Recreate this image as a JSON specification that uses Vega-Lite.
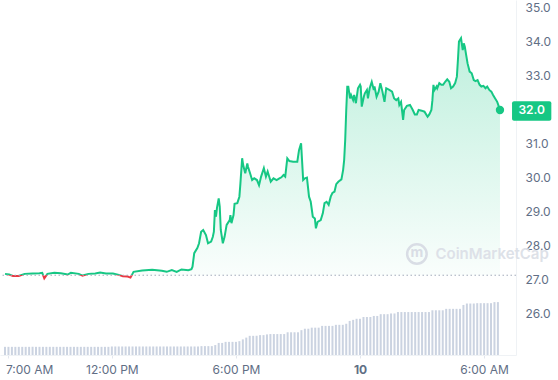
{
"$schema": "https://vega.github.io/schema/vega-lite/v6.json",
"width": 516,
"height": 355,
"autosize": {"type": "none"},
"padding": {"left": 0, "top": 0, "right": 42, "bottom": 25},
"background": "white",
"config": {
"view": {"stroke": null},
"font": "Inter",
"axisX": {"labelFont": "Inter", "labelFontSize": 12, "labelColor": "#616e85", "labelPadding": 6, "labelOverlap": false, "labelFlush": false, "labelBound": false, "tickColor": "#e3e7ee", "tickSize": 3, "domainColor": "#eff2f5", "grid": false},
"axisY": {"labelFont": "Inter", "labelFontSize": 12, "labelColor": "#616e85", "labelPadding": 9, "labelOverlap": false, "labelFlush": false, "ticks": false, "domainColor": "#eff2f5", "gridColor": "#f3f4f6", "grid": true}
},
"datasets": {
"price": [
{"t":"2024-03-09T06:50Z","p":27.18},{"t":"2024-03-09T07:02Z","p":27.16},{"t":"2024-03-09T07:13Z","p":27.12},{"t":"2024-03-09T07:30Z","p":27.12},{"t":"2024-03-09T07:47Z","p":27.18},{"t":"2024-03-09T08:10Z","p":27.19},{"t":"2024-03-09T08:30Z","p":27.20},{"t":"2024-03-09T08:38Z","p":27.21},{"t":"2024-03-09T08:44Z","p":27.05},{"t":"2024-03-09T08:53Z","p":27.18},{"t":"2024-03-09T09:13Z","p":27.21},{"t":"2024-03-09T09:32Z","p":27.20},{"t":"2024-03-09T09:52Z","p":27.16},{"t":"2024-03-09T10:01Z","p":27.21},{"t":"2024-03-09T10:24Z","p":27.18},{"t":"2024-03-09T10:35Z","p":27.13},{"t":"2024-03-09T10:52Z","p":27.18},{"t":"2024-03-09T11:12Z","p":27.19},{"t":"2024-03-09T11:26Z","p":27.22},{"t":"2024-03-09T11:43Z","p":27.19},{"t":"2024-03-09T12:03Z","p":27.19},{"t":"2024-03-09T12:20Z","p":27.15},{"t":"2024-03-09T12:32Z","p":27.11},{"t":"2024-03-09T12:46Z","p":27.10},{"t":"2024-03-09T12:54Z","p":27.07},{"t":"2024-03-09T13:03Z","p":27.24},{"t":"2024-03-09T13:28Z","p":27.28},{"t":"2024-03-09T13:57Z","p":27.30},{"t":"2024-03-09T14:25Z","p":27.27},{"t":"2024-03-09T14:39Z","p":27.24},{"t":"2024-03-09T14:54Z","p":27.29},{"t":"2024-03-09T15:08Z","p":27.24},{"t":"2024-03-09T15:22Z","p":27.31},{"t":"2024-03-09T15:42Z","p":27.29},{"t":"2024-03-09T15:51Z","p":27.32},{"t":"2024-03-09T15:54Z","p":27.39},{"t":"2024-03-09T15:59Z","p":27.79},{"t":"2024-03-09T16:08Z","p":27.94},{"t":"2024-03-09T16:13Z","p":28.08},{"t":"2024-03-09T16:19Z","p":28.42},{"t":"2024-03-09T16:25Z","p":28.47},{"t":"2024-03-09T16:33Z","p":28.32},{"t":"2024-03-09T16:39Z","p":28.08},{"t":"2024-03-09T16:48Z","p":28.13},{"t":"2024-03-09T16:53Z","p":28.27},{"t":"2024-03-09T16:56Z","p":28.42},{"t":"2024-03-09T16:59Z","p":29.06},{"t":"2024-03-09T17:02Z","p":28.86},{"t":"2024-03-09T17:05Z","p":29.12},{"t":"2024-03-09T17:10Z","p":29.40},{"t":"2024-03-09T17:13Z","p":29.16},{"t":"2024-03-09T17:16Z","p":28.47},{"t":"2024-03-09T17:22Z","p":28.08},{"t":"2024-03-09T17:27Z","p":28.27},{"t":"2024-03-09T17:33Z","p":28.62},{"t":"2024-03-09T17:42Z","p":28.76},{"t":"2024-03-09T17:44Z","p":28.91},{"t":"2024-03-09T17:47Z","p":28.67},{"t":"2024-03-09T17:53Z","p":28.91},{"t":"2024-03-09T17:56Z","p":29.24},{"t":"2024-03-09T18:04Z","p":29.26},{"t":"2024-03-09T18:10Z","p":29.45},{"t":"2024-03-09T18:13Z","p":29.84},{"t":"2024-03-09T18:18Z","p":30.58},{"t":"2024-03-09T18:21Z","p":30.38},{"t":"2024-03-09T18:27Z","p":30.14},{"t":"2024-03-09T18:33Z","p":30.43},{"t":"2024-03-09T18:35Z","p":30.33},{"t":"2024-03-09T18:41Z","p":30.14},{"t":"2024-03-09T18:47Z","p":29.94},{"t":"2024-03-09T18:53Z","p":29.99},{"t":"2024-03-09T19:01Z","p":29.94},{"t":"2024-03-09T19:07Z","p":29.79},{"t":"2024-03-09T19:13Z","p":30.04},{"t":"2024-03-09T19:21Z","p":30.29},{"t":"2024-03-09T19:27Z","p":30.04},{"t":"2024-03-09T19:32Z","p":30.19},{"t":"2024-03-09T19:41Z","p":29.89},{"t":"2024-03-09T19:49Z","p":29.99},{"t":"2024-03-09T19:58Z","p":29.94},{"t":"2024-03-09T20:06Z","p":29.99},{"t":"2024-03-09T20:12Z","p":30.02},{"t":"2024-03-09T20:18Z","p":30.09},{"t":"2024-03-09T20:23Z","p":30.04},{"t":"2024-03-09T20:29Z","p":30.58},{"t":"2024-03-09T20:35Z","p":30.50},{"t":"2024-03-09T20:46Z","p":30.48},{"t":"2024-03-09T20:58Z","p":30.48},{"t":"2024-03-09T21:03Z","p":30.82},{"t":"2024-03-09T21:09Z","p":31.02},{"t":"2024-03-09T21:12Z","p":30.48},{"t":"2024-03-09T21:15Z","p":29.94},{"t":"2024-03-09T21:20Z","p":29.99},{"t":"2024-03-09T21:26Z","p":30.01},{"t":"2024-03-09T21:32Z","p":29.45},{"t":"2024-03-09T21:37Z","p":29.30},{"t":"2024-03-09T21:43Z","p":28.86},{"t":"2024-03-09T21:49Z","p":28.81},{"t":"2024-03-09T21:52Z","p":28.52},{"t":"2024-03-09T21:57Z","p":28.71},{"t":"2024-03-09T22:06Z","p":28.76},{"t":"2024-03-09T22:12Z","p":28.96},{"t":"2024-03-09T22:17Z","p":29.26},{"t":"2024-03-09T22:23Z","p":29.30},{"t":"2024-03-09T22:29Z","p":29.21},{"t":"2024-03-09T22:35Z","p":29.45},{"t":"2024-03-09T22:40Z","p":29.56},{"t":"2024-03-09T22:46Z","p":29.60},{"t":"2024-03-09T22:51Z","p":29.82},{"t":"2024-03-09T22:57Z","p":29.89},{"t":"2024-03-09T23:06Z","p":29.96},{"t":"2024-03-09T23:11Z","p":30.24},{"t":"2024-03-09T23:14Z","p":30.53},{"t":"2024-03-09T23:17Z","p":31.12},{"t":"2024-03-09T23:20Z","p":32.00},{"t":"2024-03-09T23:23Z","p":32.68},{"t":"2024-03-09T23:26Z","p":32.68},{"t":"2024-03-09T23:31Z","p":32.34},{"t":"2024-03-09T23:34Z","p":32.44},{"t":"2024-03-09T23:40Z","p":32.29},{"t":"2024-03-09T23:43Z","p":32.44},{"t":"2024-03-09T23:48Z","p":32.20},{"t":"2024-03-09T23:54Z","p":32.64},
{"t":"2024-03-10T00:00Z","p":32.74},{"t":"2024-03-10T00:02Z","p":32.69},{"t":"2024-03-10T00:05Z","p":32.10},{"t":"2024-03-10T00:11Z","p":32.39},{"t":"2024-03-10T00:14Z","p":32.49},{"t":"2024-03-10T00:20Z","p":32.59},{"t":"2024-03-10T00:23Z","p":32.34},{"t":"2024-03-10T00:28Z","p":32.64},{"t":"2024-03-10T00:34Z","p":32.83},{"t":"2024-03-10T00:40Z","p":32.59},{"t":"2024-03-10T00:42Z","p":32.69},{"t":"2024-03-10T00:48Z","p":32.39},{"t":"2024-03-10T00:54Z","p":32.54},{"t":"2024-03-10T00:59Z","p":32.79},{"t":"2024-03-10T01:05Z","p":32.54},{"t":"2024-03-10T01:11Z","p":32.24},{"t":"2024-03-10T01:16Z","p":32.64},{"t":"2024-03-10T01:25Z","p":32.59},{"t":"2024-03-10T01:33Z","p":32.54},{"t":"2024-03-10T01:39Z","p":32.34},{"t":"2024-03-10T01:45Z","p":32.29},{"t":"2024-03-10T01:51Z","p":32.34},{"t":"2024-03-10T01:54Z","p":32.15},{"t":"2024-03-10T01:59Z","p":32.24},{"t":"2024-03-10T02:05Z","p":31.71},{"t":"2024-03-10T02:08Z","p":32.00},{"t":"2024-03-10T02:16Z","p":32.12},{"t":"2024-03-10T02:25Z","p":32.15},{"t":"2024-03-10T02:33Z","p":32.00},{"t":"2024-03-10T02:39Z","p":31.87},{"t":"2024-03-10T02:45Z","p":31.87},{"t":"2024-03-10T02:50Z","p":32.00},{"t":"2024-03-10T02:59Z","p":31.98},{"t":"2024-03-10T03:07Z","p":31.95},{"t":"2024-03-10T03:16Z","p":31.80},{"t":"2024-03-10T03:21Z","p":31.87},{"t":"2024-03-10T03:27Z","p":32.00},{"t":"2024-03-10T03:30Z","p":32.29},{"t":"2024-03-10T03:33Z","p":32.74},{"t":"2024-03-10T03:36Z","p":32.59},{"t":"2024-03-10T03:42Z","p":32.69},{"t":"2024-03-10T03:44Z","p":32.64},{"t":"2024-03-10T03:50Z","p":32.79},{"t":"2024-03-10T03:56Z","p":32.74},{"t":"2024-03-10T04:01Z","p":32.74},{"t":"2024-03-10T04:07Z","p":32.83},{"t":"2024-03-10T04:13Z","p":32.90},{"t":"2024-03-10T04:19Z","p":32.83},{"t":"2024-03-10T04:24Z","p":32.64},{"t":"2024-03-10T04:30Z","p":32.69},{"t":"2024-03-10T04:36Z","p":32.79},{"t":"2024-03-10T04:41Z","p":32.98},{"t":"2024-03-10T04:44Z","p":33.47},{"t":"2024-03-10T04:47Z","p":34.01},{"t":"2024-03-10T04:53Z","p":34.11},{"t":"2024-03-10T04:58Z","p":33.76},{"t":"2024-03-10T05:01Z","p":33.96},{"t":"2024-03-10T05:04Z","p":33.86},{"t":"2024-03-10T05:07Z","p":33.67},{"t":"2024-03-10T05:12Z","p":33.37},{"t":"2024-03-10T05:18Z","p":33.13},{"t":"2024-03-10T05:24Z","p":33.08},{"t":"2024-03-10T05:30Z","p":32.88},{"t":"2024-03-10T05:35Z","p":32.85},{"t":"2024-03-10T05:41Z","p":32.88},{"t":"2024-03-10T05:47Z","p":32.74},{"t":"2024-03-10T05:52Z","p":32.69},{"t":"2024-03-10T05:58Z","p":32.71},{"t":"2024-03-10T06:04Z","p":32.64},{"t":"2024-03-10T06:09Z","p":32.69},{"t":"2024-03-10T06:15Z","p":32.59},{"t":"2024-03-10T06:21Z","p":32.54},{"t":"2024-03-10T06:26Z","p":32.44},{"t":"2024-03-10T06:32Z","p":32.34},{"t":"2024-03-10T06:38Z","p":32.24},{"t":"2024-03-10T06:41Z","p":32.15},{"t":"2024-03-10T06:46Z","p":32.00}
],
"vol": [
{"t":"2024-03-09T06:50Z","v":23},{"t":"2024-03-09T07:00Z","v":23},{"t":"2024-03-09T07:10Z","v":23},{"t":"2024-03-09T07:20Z","v":23},{"t":"2024-03-09T07:30Z","v":23},{"t":"2024-03-09T07:40Z","v":23},{"t":"2024-03-09T07:50Z","v":23},
{"t":"2024-03-09T08:00Z","v":23},{"t":"2024-03-09T08:10Z","v":23},{"t":"2024-03-09T08:20Z","v":23},{"t":"2024-03-09T08:30Z","v":23},{"t":"2024-03-09T08:40Z","v":23},{"t":"2024-03-09T08:50Z","v":23},
{"t":"2024-03-09T09:00Z","v":23},{"t":"2024-03-09T09:10Z","v":23},{"t":"2024-03-09T09:20Z","v":23},{"t":"2024-03-09T09:30Z","v":23},{"t":"2024-03-09T09:40Z","v":23},{"t":"2024-03-09T09:50Z","v":23},
{"t":"2024-03-09T10:00Z","v":23},{"t":"2024-03-09T10:10Z","v":23},{"t":"2024-03-09T10:20Z","v":23},{"t":"2024-03-09T10:30Z","v":23},{"t":"2024-03-09T10:40Z","v":23},{"t":"2024-03-09T10:50Z","v":23},
{"t":"2024-03-09T11:00Z","v":23},{"t":"2024-03-09T11:10Z","v":23},{"t":"2024-03-09T11:20Z","v":23},{"t":"2024-03-09T11:30Z","v":23},{"t":"2024-03-09T11:40Z","v":23},{"t":"2024-03-09T11:50Z","v":23},
{"t":"2024-03-09T12:00Z","v":24},{"t":"2024-03-09T12:10Z","v":24},{"t":"2024-03-09T12:20Z","v":24},{"t":"2024-03-09T12:30Z","v":24},{"t":"2024-03-09T12:40Z","v":24},{"t":"2024-03-09T12:50Z","v":24},
{"t":"2024-03-09T13:00Z","v":24},{"t":"2024-03-09T13:10Z","v":24},{"t":"2024-03-09T13:20Z","v":24},{"t":"2024-03-09T13:30Z","v":24},{"t":"2024-03-09T13:40Z","v":24},{"t":"2024-03-09T13:50Z","v":24},
{"t":"2024-03-09T14:00Z","v":24},{"t":"2024-03-09T14:10Z","v":24},{"t":"2024-03-09T14:20Z","v":24},{"t":"2024-03-09T14:30Z","v":24},{"t":"2024-03-09T14:40Z","v":24},{"t":"2024-03-09T14:50Z","v":24},
{"t":"2024-03-09T15:00Z","v":24},{"t":"2024-03-09T15:10Z","v":24},{"t":"2024-03-09T15:20Z","v":24},{"t":"2024-03-09T15:30Z","v":24},{"t":"2024-03-09T15:40Z","v":24},{"t":"2024-03-09T15:50Z","v":24},
{"t":"2024-03-09T16:00Z","v":24},{"t":"2024-03-09T16:10Z","v":24},{"t":"2024-03-09T16:20Z","v":25},{"t":"2024-03-09T16:30Z","v":25},{"t":"2024-03-09T16:40Z","v":25},{"t":"2024-03-09T16:50Z","v":25},
{"t":"2024-03-09T17:00Z","v":28},{"t":"2024-03-09T17:10Z","v":34},{"t":"2024-03-09T17:20Z","v":34},{"t":"2024-03-09T17:30Z","v":37},{"t":"2024-03-09T17:40Z","v":37},{"t":"2024-03-09T17:50Z","v":37},
{"t":"2024-03-09T18:00Z","v":37},{"t":"2024-03-09T18:10Z","v":39},{"t":"2024-03-09T18:20Z","v":44},{"t":"2024-03-09T18:30Z","v":49},{"t":"2024-03-09T18:40Z","v":54},{"t":"2024-03-09T18:50Z","v":54},
{"t":"2024-03-09T19:00Z","v":54},{"t":"2024-03-09T19:10Z","v":56},{"t":"2024-03-09T19:20Z","v":56},{"t":"2024-03-09T19:30Z","v":58},{"t":"2024-03-09T19:40Z","v":59},{"t":"2024-03-09T19:50Z","v":59},
{"t":"2024-03-09T20:00Z","v":59},{"t":"2024-03-09T20:10Z","v":59},{"t":"2024-03-09T20:20Z","v":59},{"t":"2024-03-09T20:30Z","v":64},{"t":"2024-03-09T20:40Z","v":64},{"t":"2024-03-09T20:50Z","v":64},
{"t":"2024-03-09T21:00Z","v":64},{"t":"2024-03-09T21:10Z","v":70},{"t":"2024-03-09T21:20Z","v":74},{"t":"2024-03-09T21:30Z","v":74},{"t":"2024-03-09T21:40Z","v":77},{"t":"2024-03-09T21:50Z","v":77},
{"t":"2024-03-09T22:00Z","v":77},{"t":"2024-03-09T22:10Z","v":82},{"t":"2024-03-09T22:20Z","v":82},{"t":"2024-03-09T22:30Z","v":82},{"t":"2024-03-09T22:40Z","v":82},{"t":"2024-03-09T22:50Z","v":85},
{"t":"2024-03-09T23:00Z","v":85},{"t":"2024-03-09T23:10Z","v":85},{"t":"2024-03-09T23:20Z","v":88},{"t":"2024-03-09T23:30Z","v":96},{"t":"2024-03-09T23:40Z","v":99},{"t":"2024-03-09T23:50Z","v":102},
{"t":"2024-03-10T00:00Z","v":102},{"t":"2024-03-10T00:10Z","v":107},{"t":"2024-03-10T00:20Z","v":107},{"t":"2024-03-10T00:30Z","v":107},{"t":"2024-03-10T00:40Z","v":110},{"t":"2024-03-10T00:50Z","v":110},
{"t":"2024-03-10T01:00Z","v":115},{"t":"2024-03-10T01:10Z","v":115},{"t":"2024-03-10T01:20Z","v":115},{"t":"2024-03-10T01:30Z","v":117},{"t":"2024-03-10T01:40Z","v":117},{"t":"2024-03-10T01:50Z","v":121},
{"t":"2024-03-10T02:00Z","v":121},{"t":"2024-03-10T02:10Z","v":121},{"t":"2024-03-10T02:20Z","v":121},{"t":"2024-03-10T02:30Z","v":121},{"t":"2024-03-10T02:40Z","v":121},{"t":"2024-03-10T02:50Z","v":121},
{"t":"2024-03-10T03:00Z","v":121},{"t":"2024-03-10T03:10Z","v":121},{"t":"2024-03-10T03:20Z","v":121},{"t":"2024-03-10T03:30Z","v":126},{"t":"2024-03-10T03:40Z","v":126},{"t":"2024-03-10T03:50Z","v":126},
{"t":"2024-03-10T04:00Z","v":126},{"t":"2024-03-10T04:10Z","v":130},{"t":"2024-03-10T04:20Z","v":130},{"t":"2024-03-10T04:30Z","v":130},{"t":"2024-03-10T04:40Z","v":130},{"t":"2024-03-10T04:50Z","v":130},
{"t":"2024-03-10T05:00Z","v":141},{"t":"2024-03-10T05:10Z","v":145},{"t":"2024-03-10T05:20Z","v":145},{"t":"2024-03-10T05:30Z","v":145},{"t":"2024-03-10T05:40Z","v":146},{"t":"2024-03-10T05:50Z","v":146},
{"t":"2024-03-10T06:00Z","v":146},{"t":"2024-03-10T06:10Z","v":146},{"t":"2024-03-10T06:20Z","v":146},{"t":"2024-03-10T06:30Z","v":149},{"t":"2024-03-10T06:40Z","v":149}
],
"one": [{}]
},
"layer": [
{
"data": {"name": "vol"},
"mark": {"type": "bar", "color": "#cbd3e1", "size": 2},
"encoding": {
"x": {"field": "t", "type": "temporal", "title": null,
"scale": {"type": "utc", "domain": [{"year":2024,"month":3,"date":9,"hours":6,"minutes":50,"utc":true},{"year":2024,"month":3,"date":10,"hours":7,"minutes":18,"utc":true}]},
"axis": {"title": null, "values": [{"year":2024,"month":3,"date":9,"hours":7,"utc":true},{"year":2024,"month":3,"date":9,"hours":12,"utc":true},{"year":2024,"month":3,"date":9,"hours":18,"utc":true},{"year":2024,"month":3,"date":10,"hours":0,"utc":true},{"year":2024,"month":3,"date":10,"hours":6,"utc":true}], "labelExpr": "utchours(datum.value) == 0 ? utcFormat(datum.value, '%-d') : utcFormat(datum.value, '%-I:%M %p')", "labelFontWeight": {"condition": {"test": "utchours(datum.value) == 0", "value": 700}, "value": 400}, "labelAlign": {"condition": {"test": "utchours(datum.value) == 7", "value": "left"}, "value": "center"}, "labelOffset": {"condition": {"test": "utchours(datum.value) == 7", "value": -3}, "value": 0}}},
"y": {"field": "v", "type": "quantitative", "scale": {"domain": [0, 1000]}, "axis": null}
}
},
{
"data": {"name": "price"},
"layer": [
{
"mark": {"type": "area", "color": {"gradient": "linear", "x1": 0, "y1": 0, "x2": 0, "y2": 1, "stops": [{"offset": 0, "color": "rgba(22,199,132,0.28)"}, {"offset": 1, "color": "rgba(22,199,132,0.02)"}]}},
"encoding": {
"x": {"field": "t", "type": "temporal", "title": null,
"scale": {"type": "utc", "domain": [{"year":2024,"month":3,"date":9,"hours":6,"minutes":50,"utc":true},{"year":2024,"month":3,"date":10,"hours":7,"minutes":18,"utc":true}]},
"axis": {"title": null, "values": [{"year":2024,"month":3,"date":9,"hours":7,"utc":true},{"year":2024,"month":3,"date":9,"hours":12,"utc":true},{"year":2024,"month":3,"date":9,"hours":18,"utc":true},{"year":2024,"month":3,"date":10,"hours":0,"utc":true},{"year":2024,"month":3,"date":10,"hours":6,"utc":true}], "labelExpr": "utchours(datum.value) == 0 ? utcFormat(datum.value, '%-d') : utcFormat(datum.value, '%-I:%M %p')", "labelFontWeight": {"condition": {"test": "utchours(datum.value) == 0", "value": 700}, "value": 400}, "labelAlign": {"condition": {"test": "utchours(datum.value) == 7", "value": "left"}, "value": "center"}, "labelOffset": {"condition": {"test": "utchours(datum.value) == 7", "value": -3}, "value": 0}}},
"y": {"field": "p", "type": "quantitative", "title": null,
"scale": {"domain": [24.794, 35.235], "nice": false, "zero": false},
"axis": {"title": null, "orient": "right", "values": [26,27,28,29,30,31,32,33,34,35], "labelExpr": "datum.value == 32 ? '' : format(datum.value, '.1f')"}},
"y2": {"datum": 27.14}
}
},
{
"mark": {"type": "line", "strokeWidth": 2, "stroke": {"gradient": "linear", "x1": 0, "y1": 0, "x2": 0, "y2": 1, "stops": [{"offset": 0, "color": "#16c784"}, {"offset": 0.987, "color": "#16c784"}, {"offset": 0.987, "color": "#ea3943"}, {"offset": 1, "color": "#ea3943"}]}},
"encoding": {
"x": {"field": "t", "type": "temporal", "title": null,
"scale": {"type": "utc", "domain": [{"year":2024,"month":3,"date":9,"hours":6,"minutes":50,"utc":true},{"year":2024,"month":3,"date":10,"hours":7,"minutes":18,"utc":true}]},
"axis": {"title": null, "values": [{"year":2024,"month":3,"date":9,"hours":7,"utc":true},{"year":2024,"month":3,"date":9,"hours":12,"utc":true},{"year":2024,"month":3,"date":9,"hours":18,"utc":true},{"year":2024,"month":3,"date":10,"hours":0,"utc":true},{"year":2024,"month":3,"date":10,"hours":6,"utc":true}], "labelExpr": "utchours(datum.value) == 0 ? utcFormat(datum.value, '%-d') : utcFormat(datum.value, '%-I:%M %p')", "labelFontWeight": {"condition": {"test": "utchours(datum.value) == 0", "value": 700}, "value": 400}, "labelAlign": {"condition": {"test": "utchours(datum.value) == 7", "value": "left"}, "value": "center"}, "labelOffset": {"condition": {"test": "utchours(datum.value) == 7", "value": -3}, "value": 0}}},
"y": {"field": "p", "type": "quantitative", "title": null,
"scale": {"domain": [24.794, 35.235], "nice": false, "zero": false},
"axis": {"title": null, "orient": "right", "values": [26,27,28,29,30,31,32,33,34,35], "labelExpr": "datum.value == 32 ? '' : format(datum.value, '.1f')"}}
}
},
{
"data": {"name": "one"},
"layer": [
{
"mark": {"type": "rule", "color": "#a3abbb", "strokeDash": [1.5, 2.5], "strokeWidth": 1},
"encoding": {"y": {"datum": 27.14}}
},
{
"mark": {"type": "point", "filled": true, "color": "#16c784", "size": 70, "opacity": 1},
"encoding": {
"x": {"datum": {"year":2024,"month":3,"date":10,"hours":6,"minutes":46,"utc":true}},
"y": {"datum": 32.0}
}
},
{
"mark": {"type": "rect", "color": "#16c784", "cornerRadius": 2},
"encoding": {
"x": {"datum": {"year":2024,"month":3,"date":10,"hours":7,"minutes":21,"utc":true}},
"x2": {"datum": {"year":2024,"month":3,"date":10,"hours":9,"minutes":15,"utc":true}},
"y": {"datum": 32.26},
"y2": {"datum": 31.68}
}
},
{
"mark": {"type": "text", "text": "32.0", "color": "white", "font": "Inter", "fontSize": 12, "fontWeight": 600, "align": "center", "baseline": "middle"},
"encoding": {
"x": {"datum": {"year":2024,"month":3,"date":10,"hours":8,"minutes":18,"utc":true}},
"y": {"datum": 32.0}
}
},
{
"mark": {"type": "point", "shape": "circle", "filled": false, "color": "#d9dde5", "strokeWidth": 2.5, "size": 380, "opacity": 1},
"encoding": {
"x": {"datum": {"year":2024,"month":3,"date":10,"hours":2,"minutes":45,"utc":true}},
"y": {"datum": 27.765}
}
},
{
"mark": {"type": "text", "text": "m", "color": "#d9dde5", "font": "Inter", "fontSize": 14, "fontWeight": 700, "align": "center", "baseline": "middle"},
"encoding": {
"x": {"datum": {"year":2024,"month":3,"date":10,"hours":2,"minutes":45,"utc":true}},
"y": {"datum": 27.80}
}
},
{
"mark": {"type": "text", "text": "CoinMarketCap", "color": "#dde1e8", "font": "Inter", "fontSize": 15, "fontWeight": 600, "align": "left", "baseline": "middle"},
"encoding": {
"x": {"datum": {"year":2024,"month":3,"date":10,"hours":3,"minutes":39,"utc":true}},
"y": {"datum": 27.765}
}
}
],
"encoding": {
"x": {"type": "temporal", "title": null,
"scale": {"type": "utc", "domain": [{"year":2024,"month":3,"date":9,"hours":6,"minutes":50,"utc":true},{"year":2024,"month":3,"date":10,"hours":7,"minutes":18,"utc":true}]},
"axis": {"title": null, "values": [{"year":2024,"month":3,"date":9,"hours":7,"utc":true},{"year":2024,"month":3,"date":9,"hours":12,"utc":true},{"year":2024,"month":3,"date":9,"hours":18,"utc":true},{"year":2024,"month":3,"date":10,"hours":0,"utc":true},{"year":2024,"month":3,"date":10,"hours":6,"utc":true}], "labelExpr": "utchours(datum.value) == 0 ? utcFormat(datum.value, '%-d') : utcFormat(datum.value, '%-I:%M %p')", "labelFontWeight": {"condition": {"test": "utchours(datum.value) == 0", "value": 700}, "value": 400}, "labelAlign": {"condition": {"test": "utchours(datum.value) == 7", "value": "left"}, "value": "center"}, "labelOffset": {"condition": {"test": "utchours(datum.value) == 7", "value": -3}, "value": 0}}},
"y": {"type": "quantitative", "title": null,
"scale": {"domain": [24.794, 35.235], "nice": false, "zero": false},
"axis": {"title": null, "orient": "right", "values": [26,27,28,29,30,31,32,33,34,35], "labelExpr": "datum.value == 32 ? '' : format(datum.value, '.1f')"}}
}
}
]
}
],
"resolve": {"scale": {"y": "independent"}}
}
